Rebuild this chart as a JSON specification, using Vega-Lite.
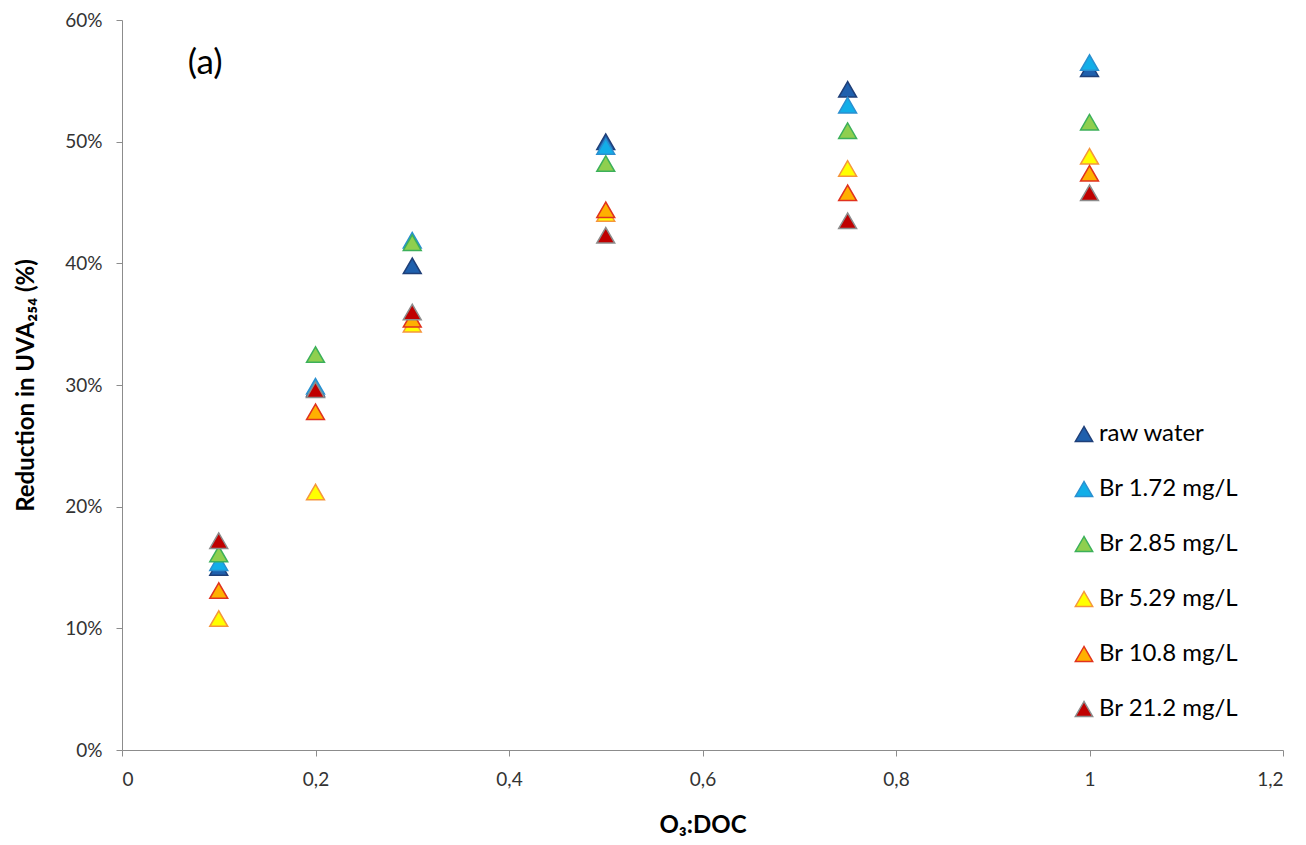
{
  "$schema": "https://vega.github.io/schema/vega-lite/v6.json",
  "width": 1161,
  "height": 730,
  "autosize": "none",
  "padding": {"left": 122, "top": 20, "right": 23, "bottom": 95},
  "background": "white",
  "config": {
    "font": "Lato",
    "view": {"stroke": null},
    "axis": {"grid": false, "domainColor": "#8c8c8c", "tickColor": "#8c8c8c", "labelColor": "#333333", "labelFontSize": 19, "titleFontSize": 24, "titleFontWeight": "bold", "titleColor": "#000000", "labelFont": "Lato", "titleFont": "Lato"}
  },
  "datasets": {
    "pts": [
      {"x": 0.1, "y": 0.150, "s": "raw water"},
      {"x": 0.2, "y": 0.297, "s": "raw water"},
      {"x": 0.3, "y": 0.398, "s": "raw water"},
      {"x": 0.5, "y": 0.500, "s": "raw water"},
      {"x": 0.75, "y": 0.543, "s": "raw water"},
      {"x": 1.0, "y": 0.560, "s": "raw water"},
      {"x": 0.1, "y": 0.154, "s": "Br 1.72 mg/L"},
      {"x": 0.2, "y": 0.299, "s": "Br 1.72 mg/L"},
      {"x": 0.3, "y": 0.419, "s": "Br 1.72 mg/L"},
      {"x": 0.5, "y": 0.496, "s": "Br 1.72 mg/L"},
      {"x": 0.75, "y": 0.530, "s": "Br 1.72 mg/L"},
      {"x": 1.0, "y": 0.565, "s": "Br 1.72 mg/L"},
      {"x": 0.1, "y": 0.161, "s": "Br 2.85 mg/L"},
      {"x": 0.2, "y": 0.325, "s": "Br 2.85 mg/L"},
      {"x": 0.3, "y": 0.417, "s": "Br 2.85 mg/L"},
      {"x": 0.5, "y": 0.482, "s": "Br 2.85 mg/L"},
      {"x": 0.75, "y": 0.509, "s": "Br 2.85 mg/L"},
      {"x": 1.0, "y": 0.516, "s": "Br 2.85 mg/L"},
      {"x": 0.1, "y": 0.108, "s": "Br 5.29 mg/L"},
      {"x": 0.2, "y": 0.212, "s": "Br 5.29 mg/L"},
      {"x": 0.3, "y": 0.350, "s": "Br 5.29 mg/L"},
      {"x": 0.5, "y": 0.441, "s": "Br 5.29 mg/L"},
      {"x": 0.75, "y": 0.478, "s": "Br 5.29 mg/L"},
      {"x": 1.0, "y": 0.488, "s": "Br 5.29 mg/L"},
      {"x": 0.1, "y": 0.131, "s": "Br 10.8 mg/L"},
      {"x": 0.2, "y": 0.278, "s": "Br 10.8 mg/L"},
      {"x": 0.3, "y": 0.354, "s": "Br 10.8 mg/L"},
      {"x": 0.5, "y": 0.444, "s": "Br 10.8 mg/L"},
      {"x": 0.75, "y": 0.458, "s": "Br 10.8 mg/L"},
      {"x": 1.0, "y": 0.474, "s": "Br 10.8 mg/L"},
      {"x": 0.1, "y": 0.172, "s": "Br 21.2 mg/L"},
      {"x": 0.2, "y": 0.296, "s": "Br 21.2 mg/L"},
      {"x": 0.3, "y": 0.360, "s": "Br 21.2 mg/L"},
      {"x": 0.5, "y": 0.423, "s": "Br 21.2 mg/L"},
      {"x": 0.75, "y": 0.435, "s": "Br 21.2 mg/L"},
      {"x": 1.0, "y": 0.458, "s": "Br 21.2 mg/L"}
    ],
    "lbl": [{"x": 0.086, "y": 0.565, "t": "(a)"}]
  },
  "layer": [
    {
      "data": {"name": "pts"},
      "mark": {"type": "point", "shape": "triangle-up", "filled": true, "size": 320, "strokeWidth": 1.5, "opacity": 1},
      "encoding": {
        "x": {"field": "x", "type": "quantitative", "scale": {"domain": [0, 1.2], "nice": false},
          "axis": {"values": [0, 0.2, 0.4, 0.6, 0.8, 1, 1.2], "labelExpr": "replace(format(datum.value, '.1~f'), '.', ',')", "title": "O₃:DOC", "tickSize": 6, "labelPadding": 14, "titlePadding": 24}},
        "y": {"field": "y", "type": "quantitative", "scale": {"domain": [0, 0.6], "nice": false},
          "axis": {"values": [0, 0.1, 0.2, 0.3, 0.4, 0.5, 0.6], "format": ".0%", "title": "Reduction in UVA₂₅₄ (%)", "tickSize": 6, "labelPadding": 14, "titlePadding": 26}},
        "fill": {"field": "s", "type": "nominal",
          "scale": {"domain": ["raw water", "Br 1.72 mg/L", "Br 2.85 mg/L", "Br 5.29 mg/L", "Br 10.8 mg/L", "Br 21.2 mg/L"],
            "range": ["#1f60ad", "#12aee8", "#8fcf4f", "#ffff00", "#ffb000", "#c00000"]},
          "legend": {"title": null, "orient": "none", "legendX": 950, "legendY": 402, "labelFontSize": 24, "labelColor": "#000000", "labelFont": "Lato", "symbolSize": 300, "rowPadding": 31, "labelOffset": 3, "symbolStrokeWidth": 1.5}},
        "stroke": {"field": "s", "type": "nominal",
          "scale": {"domain": ["raw water", "Br 1.72 mg/L", "Br 2.85 mg/L", "Br 5.29 mg/L", "Br 10.8 mg/L", "Br 21.2 mg/L"],
            "range": ["#1f3f78", "#2a8fd0", "#3cb05a", "#f5963c", "#e0321e", "#8c8c8c"]},
          "legend": null}
      }
    },
    {
      "data": {"name": "lbl"},
      "mark": {"type": "text", "fontSize": 35, "font": "Lato", "color": "#000000", "align": "center", "baseline": "middle"},
      "encoding": {
        "x": {"field": "x", "type": "quantitative"},
        "y": {"field": "y", "type": "quantitative"},
        "text": {"field": "t"}
      }
    }
  ]
}
